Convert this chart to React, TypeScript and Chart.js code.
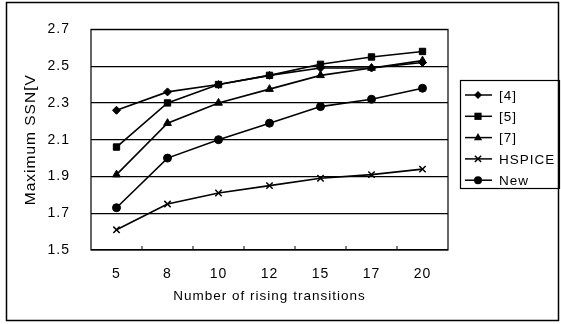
import React, { useEffect, useRef } from "react";
import { Chart, registerables } from "chart.js";

Chart.register(...registerables);

const categories = ["5", "8", "10", "12", "15", "17", "20"];
const ref4 = [2.26, 2.36, 2.4, 2.45, 2.49, 2.49, 2.52];
const ref5 = [2.06, 2.3, 2.4, 2.45, 2.51, 2.55, 2.58];
const ref7 = [1.91, 2.19, 2.3, 2.375, 2.45, 2.49, 2.53];
const hspice = [1.61, 1.75, 1.81, 1.85, 1.89, 1.91, 1.94];
const newModel = [1.73, 2.0, 2.1, 2.19, 2.28, 2.32, 2.38];
const seriesNames = ["[4]", "[5]", "[7]", "HSPICE", "New"];
const yTicks = [1.5, 1.7, 1.9, 2.1, 2.3, 2.5, 2.7];

const FONT = "'Liberation Sans', Arial, sans-serif";

const styles = [
  { pointStyle: "rectRot", radius: 4 },
  { pointStyle: "rect", radius: 4.5 },
  { pointStyle: "triangle", radius: 4.5 },
  { pointStyle: "crossRot", radius: 4.5 },
  { pointStyle: "circle", radius: 4 },
];

function drawMarker(ctx: CanvasRenderingContext2D, style: string, r: number, x: number, y: number) {
  ctx.save();
  ctx.fillStyle = "#000";
  ctx.strokeStyle = "#000";
  ctx.lineWidth = 1.5;
  ctx.beginPath();
  if (style === "rectRot") {
    ctx.moveTo(x, y - r);
    ctx.lineTo(x + r, y);
    ctx.lineTo(x, y + r);
    ctx.lineTo(x - r, y);
    ctx.closePath();
    ctx.fill();
  } else if (style === "rect") {
    ctx.rect(x - r * 0.8, y - r * 0.8, r * 1.6, r * 1.6);
    ctx.fill();
  } else if (style === "triangle") {
    ctx.moveTo(x, y - r);
    ctx.lineTo(x + r * 0.9, y + r * 0.6);
    ctx.lineTo(x - r * 0.9, y + r * 0.6);
    ctx.closePath();
    ctx.fill();
  } else if (style === "crossRot") {
    ctx.moveTo(x - r * 0.7, y - r * 0.7);
    ctx.lineTo(x + r * 0.7, y + r * 0.7);
    ctx.moveTo(x + r * 0.7, y - r * 0.7);
    ctx.lineTo(x - r * 0.7, y + r * 0.7);
    ctx.stroke();
  } else {
    ctx.arc(x, y, r, 0, Math.PI * 2);
    ctx.fill();
  }
  ctx.restore();
}

const spacingPlugin = {
  id: "spacing",
  beforeInit(chart: any) {
    (chart.ctx as any).letterSpacing = "1px";
  },
  beforeLayout(chart: any) {
    (chart.ctx as any).letterSpacing = "1px";
  },
  beforeDraw(chart: any) {
    (chart.ctx as any).letterSpacing = "1px";
  },
};

const framePlugin = {
  id: "frame",
  afterDraw(chart: any) {
    const ctx = chart.ctx;
    ctx.save();
    ctx.strokeStyle = "#000";
    ctx.lineWidth = 1.5;
    ctx.strokeRect(6.5, 2.5, 552, 318);
    const a = chart.chartArea;
    ctx.lineWidth = 1.2;
    ctx.strokeRect(a.left, a.top, a.right - a.left, a.bottom - a.top);
    const xs = chart.scales.x;
    ctx.lineWidth = 1;
    for (let i = 1; i < categories.length; i++) {
      const x = (xs.getPixelForValue(i - 1) + xs.getPixelForValue(i)) / 2;
      ctx.beginPath();
      ctx.moveTo(x, a.bottom);
      ctx.lineTo(x, a.bottom - 4);
      ctx.stroke();
    }
    const lx = 460, ly = 80, lw = 100, lh = 108;
    ctx.lineWidth = 1.2;
    ctx.strokeRect(lx + 0.5, ly + 0.5, lw - 1, lh);
    ctx.font = `13.5px ${FONT}`;
    ctx.fillStyle = "#000";
    ctx.textBaseline = "middle";
    ctx.textAlign = "left";
    chart.data.datasets.forEach((ds: any, i: number) => {
      const y = 95 + i * 21.3;
      ctx.beginPath();
      ctx.lineWidth = 1.5;
      ctx.moveTo(465, y);
      ctx.lineTo(492, y);
      ctx.stroke();
      const st = styles[i];
      drawMarker(ctx, st.pointStyle, st.radius, 478, y);
      ctx.fillText(ds.label, 499, y + 1);
    });
    ctx.restore();
  },
};

export default function App() {
  const canvasRef = useRef<HTMLCanvasElement | null>(null);
  useEffect(() => {
    if (!canvasRef.current) return;
    const allData = [ref4, ref5, ref7, hspice, newModel];
    const chart = new Chart(canvasRef.current, {
      type: "line",
      data: {
        labels: categories,
        datasets: allData.map((d, i) => ({
          label: seriesNames[i],
          data: d,
          borderColor: "#000",
          backgroundColor: "#000",
          borderWidth: 1.6,
          pointStyle: styles[i].pointStyle as any,
          pointRadius: styles[i].radius,
          pointBorderWidth: i === 3 ? 1.5 : 1,
          tension: 0,
        })),
      },
      options: {
        responsive: false,
        animation: false,
        devicePixelRatio: 1,
        layout: { padding: { left: 6, top: 24, right: 113, bottom: 0 } },
        plugins: { legend: { display: false }, tooltip: { enabled: false } },
        scales: {
          x: {
            type: "category",
            offset: true,
            grid: { display: false, drawTicks: false },
            border: { display: false },
            ticks: { color: "#000", font: { family: FONT, size: 14 }, padding: 16, maxRotation: 0 },
            title: {
              display: true,
              text: "Number of rising transitions",
              color: "#000",
              font: { family: FONT, size: 13.5 },
              padding: { top: 4, bottom: 20 },
            },
            afterFit: (s: any) => { s.height = 74; },
          },
          y: {
            min: 1.5,
            max: 2.7,
            afterBuildTicks: (s: any) => { s.ticks = yTicks.map((v) => ({ value: v })); },
            grid: { color: "#000", lineWidth: 1.2, drawTicks: false },
            border: { display: false },
            ticks: {
              color: "#000",
              font: { family: FONT, size: 14 },
              padding: 21,
              callback: (v: any) => Number(v).toFixed(1),
            },
            title: {
              display: true,
              text: "Maximum SSN[V",
              color: "#000",
              font: { family: FONT, size: 15.5 },
              padding: { top: 15, bottom: 0 },
            },
            afterFit: (s: any) => { s.width = 85; },
          },
        },
      },
      plugins: [spacingPlugin, framePlugin],
    });
    return () => chart.destroy();
  }, []);
  return (
    <div style={{ position: "fixed", left: 0, top: 0, width: 561, height: 324, background: "#fff" }}>
      <canvas ref={canvasRef} width={561} height={324} style={{ width: 561, height: 324 }} />
    </div>
  );
}
